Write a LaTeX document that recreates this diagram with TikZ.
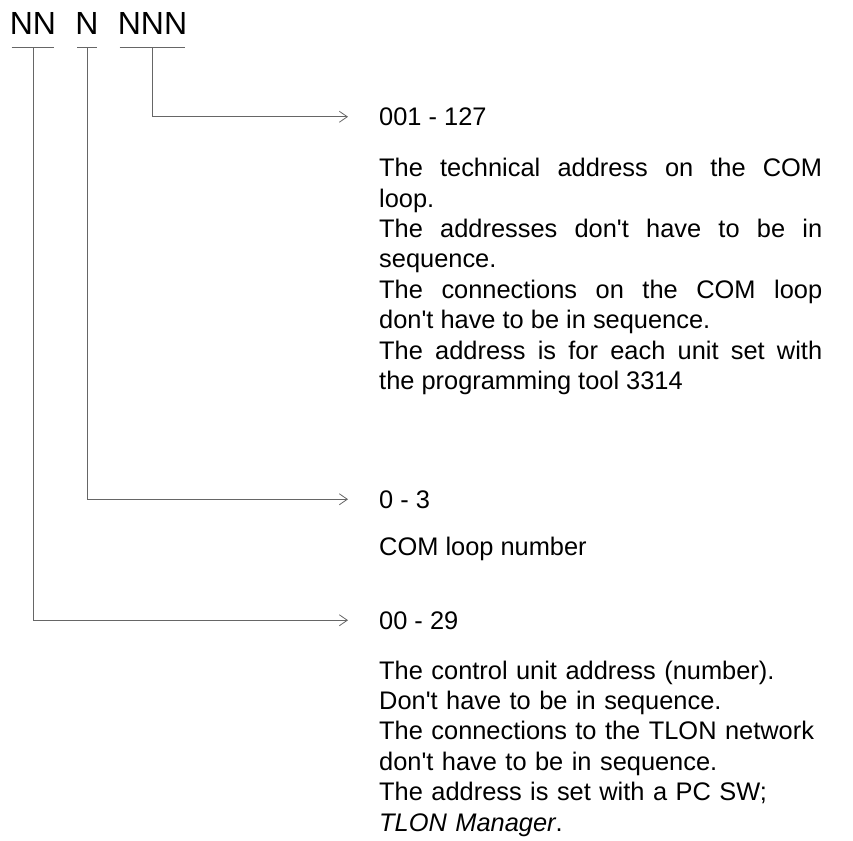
\documentclass[tikz,border=0pt]{standalone}
\usepackage{fontspec}
\setmainfont{Liberation Sans}
\usepackage{tikz}
\usetikzlibrary{arrows.meta,positioning}
\newcommand{\apos}{\textquotesingle}

\begin{document}
\begin{tikzpicture}[
    x=1pt, y=-1pt,
    >={Straight Barb[length=8pt,width=11pt]},
    fieldname/.style={
		font=\fontsize{32}{38}\selectfont,
		inner xsep=-2pt,
		inner ysep=12pt,
		anchor=base
	},
	rangelabel/.style={
		font=\fontsize{25.4}{30.4}\selectfont,
		inner sep=0pt,
		anchor=base west
	},
	notetext/.style={
		font=\fontsize{25.4}{30.4}\selectfont,
		inner sep=0pt,
		anchor=base west,
		text width=443pt
	},
	underrule/.style={
		draw=black!60,
		line width=0.8pt
	},
	linkarrow/.style={
		draw=black!60,
		line width=0.8pt,
		->,
		shorten >=31pt
	}
  ]
  \useasboundingbox (0,0) rectangle (853,840);

    % the address fields on top
  \node [fieldname] (nn)  at (33,35)    {NN};
  \node [fieldname] (n)   at (87,35)    {N};
  \node [fieldname] (nnn) at (152.5,35) {NNN};

  \draw [underrule] (nn.south west) -- (nn.south east);
  \draw [underrule] (n.south west) -- (n.south east);
  \draw [underrule] (nnn.south west) -- (nnn.south east);

    % ranges and their explanations
  \node [rangelabel] (addrRange) at (379,125.5) {001 - 127};
  \node [notetext, align=justify] (addrText) at (379,176.7)
 {%
  The technical address on the COM\linebreak
  loop.\newline
  The addresses don\apos t have to be in\linebreak
  sequence.\newline
  The connections on the COM loop\linebreak
  don\apos t have to be in sequence.\newline
  The address is for each unit set with\linebreak
  the programming tool 3314
 };

  \node [rangelabel] (loopRange) at (379,508) {0 - 3};
  \node [rangelabel] (loopText) at (379,555) {COM loop number};

  \node [rangelabel] (unitRange) at (379,629) {00 - 29};
  \node [notetext, align=left] (unitText) at (379,679)
 {%
  The control unit address (number).\\
  Don\apos t have to be in sequence.\\
  The connections to the TLON network\\
  don\apos t have to be in sequence.\\
  The address is set with a PC SW;\\
  \textit{TLON Manager}.
 };

 \draw [linkarrow] (nnn.south) |- (addrRange.west);
 \draw [linkarrow] (n.south) |- (loopRange.west);
 \draw [linkarrow] (nn.south) |- (unitRange.west);

\end{tikzpicture}
\end{document}
